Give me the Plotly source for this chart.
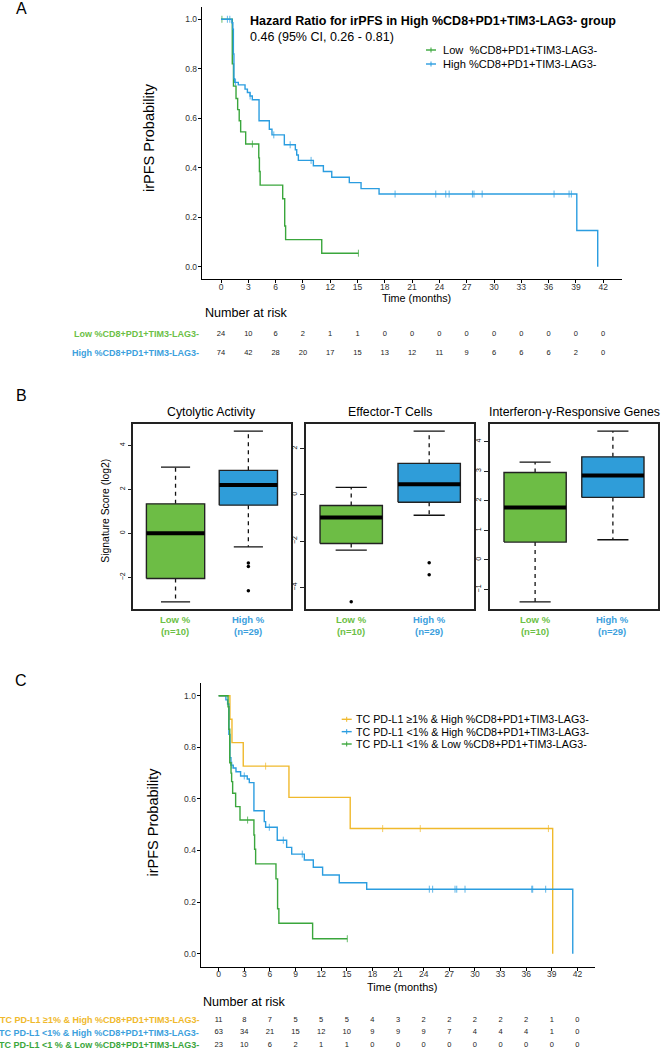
import plotly.graph_objects as go
import numpy as np

W, H = 668, 1050
FONT = "Liberation Sans, Arial, Helvetica, sans-serif"

GREEN = "#3aa63c"
BLUE = "#2b9de0"
GOLD = "#f0b92c"
BOX_GREEN = "#6dbd45"
BOX_BLUE = "#2f9dd9"
LBL_GREEN = "#6cbf46"
LBL_BLUE = "#3c9fdd"

# ---------------- data: panel A ----------------
time_ticks = list(range(0, 43, 3))
prob_ticks = [0.0, 0.2, 0.4, 0.6, 0.8, 1.0]

A_low_t = [0, 1.24, 1.37, 1.65, 1.83, 2.0, 2.16, 2.71, 4.15, 4.22, 4.3, 6.78, 7.0, 7.1, 11.07, 15.1]
A_low_s = [1.0, 0.82, 0.73, 0.68, 0.635, 0.59, 0.545, 0.496, 0.44, 0.385, 0.33, 0.275, 0.165, 0.11, 0.055, 0.055]
A_low_cens = [0.1, 3.45, 15.1]

A_high_t = [0, 1.2, 1.3, 1.36, 1.42, 1.5, 1.9, 2.64, 2.9, 3.19, 3.44, 4.18, 5.31, 5.6, 6.96, 8.17, 8.32, 8.5,
            10.15, 11.25, 12.17, 14.1, 15.39, 17.37, 39.1, 41.4]
A_high_s = [1.0, 0.986, 0.96, 0.86, 0.76, 0.745, 0.735, 0.718, 0.704, 0.69, 0.675, 0.59, 0.556, 0.533, 0.493,
            0.473, 0.452, 0.43, 0.408, 0.385, 0.362, 0.34, 0.316, 0.294, 0.147, 0.0]
A_high_cens = [0.7, 0.97, 1.6, 3.2, 5.8, 7.6, 9.9, 19.13, 23.6, 24.7, 25.07, 27.63, 27.8, 28.7, 36.6, 38.25, 38.5]

A_risk_low = [24, 10, 6, 2, 1, 1, 0, 0, 0, 0, 0, 0, 0, 0, 0]
A_risk_high = [74, 42, 28, 20, 17, 15, 13, 12, 11, 9, 6, 6, 6, 2, 0]
A_risk_labels = ["Low %CD8+PD1+TIM3-LAG3-", "High %CD8+PD1+TIM3-LAG3-"]
A_legend = ["Low\u00a0\u00a0%CD8+PD1+TIM3-LAG3-", "High %CD8+PD1+TIM3-LAG3-"]

# ---------------- data: panel B ----------------
B_titles = ["Cytolytic Activity", "Effector-T Cells", "Interferon-\u03b3-Responsive Genes"]
B_groups = ["Low %<br>(n=10)", "High %<br>(n=29)"]
# [lower whisker, Q1, median, Q3, upper whisker]
B_low_stats = [[-3.11, -2.05, 0.0, 1.34, 3.01],
               [-2.39, -2.1, -0.98, -0.46, 0.32],
               [-1.42, 0.6, 1.77, 2.95, 3.3]]
B_high_stats = [[-0.61, 1.28, 2.2, 2.86, 4.64],
                [-0.88, -0.32, 0.46, 1.36, 2.75],
                [0.68, 2.11, 2.85, 3.48, 4.35]]
B_low_out = [[], [-4.62], []]
B_high_out = [[-1.34, -1.5, -2.61], [-2.93, -3.45], []]
B_yticks = [[-2, 0, 2, 4], [-4, -2, 0, 2], [-1, 0, 1, 2, 3, 4]]

# ---------------- data: panel C ----------------
C_gold_t = [0, 1.32, 1.56, 2.88, 8.23, 15.4, 39.1]
C_gold_s = [1.0, 0.909, 0.818, 0.727, 0.606, 0.485, 0.0]
C_gold_cens = [5.5, 19.2, 23.6, 38.6]

C_blue_t = [0, 0.85, 1.05, 1.2, 1.32, 1.44, 1.71, 2.03, 2.57, 3.35, 3.59, 4.13, 5.34, 5.5, 6.86, 7.96, 8.55,
            10.03, 11.08, 12.17, 14.12, 17.33, 41.45]
C_blue_s = [1.0, 0.984, 0.968, 0.85, 0.76, 0.731, 0.72, 0.705, 0.689, 0.677, 0.663, 0.554, 0.512, 0.49, 0.44,
            0.412, 0.386, 0.363, 0.335, 0.305, 0.275, 0.25, 0.0]
C_blue_cens = [1.55, 3.0, 5.93, 7.57, 9.79, 24.66, 25.05, 27.67, 27.87, 28.84, 36.65, 36.76, 38.28]

C_green_t = [0, 1.1, 1.2, 1.3, 1.45, 1.52, 1.64, 1.99, 2.5, 4.13, 4.21, 4.33, 6.71, 6.9, 7.05, 11.0, 15.06]
C_green_s = [1.0, 0.957, 0.87, 0.74, 0.70, 0.667, 0.622, 0.57, 0.518, 0.46, 0.405, 0.348, 0.29, 0.174, 0.118,
             0.058, 0.058]
C_green_cens = [3.39, 15.06]

C_risk_gold = [11, 8, 7, 5, 5, 5, 4, 3, 2, 2, 2, 2, 2, 1, 0]
C_risk_blue = [63, 34, 21, 15, 12, 10, 9, 9, 9, 7, 4, 4, 4, 1, 0]
C_risk_green = [23, 10, 6, 2, 1, 1, 0, 0, 0, 0, 0, 0, 0, 0, 0]
C_risk_labels = ["TC PD-L1 \u22651% & High %CD8+PD1+TIM3-LAG3-",
                 "TC PD-L1 <1% & High %CD8+PD1+TIM3-LAG3-",
                 "TC PD-L1 <1 % & Low %CD8+PD1+TIM3-LAG3-"]
C_legend = ["TC PD-L1 \u22651% & High %CD8+PD1+TIM3-LAG3-",
            "TC PD-L1 <1% & High %CD8+PD1+TIM3-LAG3-",
            "TC PD-L1 <1% & Low %CD8+PD1+TIM3-LAG3-"]


# ---------------- helpers ----------------
def px(x):
    return x / W


def py(y):
    return 1 - y / H


def surv_at(ts, ss, c):
    i = int(np.searchsorted(np.array(ts), c, side="right")) - 1
    return ss[max(i, 0)]


fig = go.Figure()


def add_km(t, s, cens, color, xa, ya):
    fig.add_trace(go.Scatter(x=t, y=s, mode="lines", line=dict(color=color, width=1.4, shape="hv"),
                             xaxis=xa, yaxis=ya, hoverinfo="skip", showlegend=False))
    fig.add_trace(go.Scatter(x=cens, y=[surv_at(t, s, c) for c in cens], mode="markers",
                             marker=dict(symbol="line-ns-open", size=5, color=color, opacity=0.75,
                                         line=dict(width=1, color=color)),
                             xaxis=xa, yaxis=ya, hoverinfo="skip", showlegend=False))


def add_risk(rows, xa, ya):
    for i, vals in enumerate(rows):
        fig.add_trace(go.Scatter(x=time_ticks, y=[i] * len(vals), mode="text", text=[str(v) for v in vals],
                                 textfont=dict(size=7.5, color="#222", family=FONT),
                                 xaxis=xa, yaxis=ya, hoverinfo="skip", showlegend=False))


def km_axes(xname, yname, x0, x1, y0, y1):
    xa = dict(domain=[px(x0), px(x1)], range=[-2.1, 44.1], tickvals=time_ticks, ticks="outside", ticklen=3,
              tickcolor="black", tickwidth=1, showline=True, linecolor="black", linewidth=1.2,
              showgrid=False, zeroline=False, tickfont=dict(size=8.5, color="#333", family=FONT),
              ticklabelstandoff=-4, anchor=yname.replace("axis", ""))
    ya = dict(domain=[py(y1), py(y0)], range=[-0.05, 1.05], tickvals=prob_ticks, tickformat=".1f",
              ticks="outside", ticklen=3, tickcolor="black", tickwidth=1, showline=True, linecolor="black",
              linewidth=1.2, showgrid=False, zeroline=False, ticklabelstandoff=-1,
              tickfont=dict(size=8.5, color="#333", family=FONT), anchor=xname.replace("axis", ""))
    return xa, ya


def table_axes(xname, yname, x0, x1, ytop, ybot, row0, spacing):
    nbot = (ybot - row0) / spacing
    ntop = (ytop - row0) / spacing
    xa = dict(domain=[px(x0), px(x1)], range=[-2.1, 44.1], visible=False, anchor=yname.replace("axis", ""))
    ya = dict(domain=[py(ybot), py(ytop)], range=[nbot, ntop], visible=False, anchor=xname.replace("axis", ""))
    return xa, ya


layout = {}

# ---------- Panel A ----------
add_km(A_low_t, A_low_s, A_low_cens, GREEN, "x", "y")
add_km(A_high_t, A_high_s, A_high_cens, BLUE, "x", "y")
layout["xaxis"], layout["yaxis"] = km_axes("xaxis", "yaxis", 201.9, 622.3, 6.9, 279.2)
add_risk([A_risk_low, A_risk_high], "x2", "y2")
layout["xaxis2"], layout["yaxis2"] = table_axes("xaxis2", "yaxis2", 201.9, 622.3, 324, 364, 334, 18.7)

# ---------- Panel B ----------
bx = [(133.3, 290.6), (306.0, 474.4), (490.0, 658.0)]
btop, bbot = 424.3, 608.7
for k in range(3):
    xa, ya = "x%d" % (k + 3), "y%d" % (k + 3)
    allv = B_low_stats[k] + B_high_stats[k] + B_low_out[k] + B_high_out[k]
    lo, hi = min(allv), max(allv)
    pad = 0.04 * (hi - lo)
    for cx, st, fill, outs in [(1, B_low_stats[k], BOX_GREEN, B_low_out[k]),
                               (2, B_high_stats[k], BOX_BLUE, B_high_out[k])]:
        wl, q1, med, q3, wh = st
        fig.add_trace(go.Scatter(x=[cx, cx, None, cx, cx], y=[q3, wh, None, q1, wl], mode="lines",
                                 line=dict(color="#111", width=1.3, dash="4px,4px"),
                                 xaxis=xa, yaxis=ya, hoverinfo="skip", showlegend=False))
        fig.add_trace(go.Scatter(x=[cx - 0.2, cx + 0.2, None, cx - 0.2, cx + 0.2], y=[wh, wh, None, wl, wl],
                                 mode="lines", line=dict(color="#111", width=1.3),
                                 xaxis=xa, yaxis=ya, hoverinfo="skip", showlegend=False))
        fig.add_trace(go.Scatter(x=[cx - 0.4, cx + 0.4, cx + 0.4, cx - 0.4, cx - 0.4], y=[q1, q1, q3, q3, q1],
                                 mode="lines", fill="toself", fillcolor=fill, line=dict(color="#222", width=1.4),
                                 xaxis=xa, yaxis=ya, hoverinfo="skip", showlegend=False))
        fig.add_trace(go.Scatter(x=[cx - 0.4, cx + 0.4], y=[med, med], mode="lines",
                                 line=dict(color="#000", width=4),
                                 xaxis=xa, yaxis=ya, hoverinfo="skip", showlegend=False))
        if outs:
            fig.add_trace(go.Scatter(x=[cx] * len(outs), y=outs, mode="markers",
                                     marker=dict(size=3.5, color="#000"),
                                     xaxis=xa, yaxis=ya, hoverinfo="skip", showlegend=False))
    layout["xaxis%d" % (k + 3)] = dict(domain=[px(bx[k][0]), px(bx[k][1])], range=[0.42, 2.58],
                                       showticklabels=False, ticks="", showline=True, mirror=True,
                                       linecolor="#222", linewidth=1.6, showgrid=False, zeroline=False,
                                       anchor="y%d" % (k + 3))
    layout["yaxis%d" % (k + 3)] = dict(domain=[py(bbot), py(btop)], range=[lo - pad, hi + pad],
                                       tickvals=B_yticks[k], ticks="outside", ticklen=4, tickcolor="#222",
                                       tickangle=-90, showline=True, mirror=True, linecolor="#222",
                                       linewidth=1.6, showgrid=False, zeroline=False,
                                       tickfont=dict(size=7, color="#111", family=FONT),
                                       anchor="x%d" % (k + 3))

# ---------- Panel C ----------
add_km(C_gold_t, C_gold_s, C_gold_cens, GOLD, "x6", "y6")
add_km(C_blue_t, C_blue_s, C_blue_cens, BLUE, "x6", "y6")
add_km(C_green_t, C_green_s, C_green_cens, GREEN, "x6", "y6")
layout["xaxis6"], layout["yaxis6"] = km_axes("xaxis6", "yaxis6", 200.7, 595.4, 682.8, 966.6)
add_risk([C_risk_gold, C_risk_blue, C_risk_green], "x7", "y7")
layout["xaxis7"], layout["yaxis7"] = table_axes("xaxis7", "yaxis7", 200.7, 595.4, 1013.7, 1050, 1020, 12.5)

# ---------------- annotations ----------------
ann = []


def text(x, y, s, size, color="#000", xanchor="left", bold=False, angle=0, xref="paper"):
    ann.append(dict(x=x if xref != "paper" else px(x), y=py(y), xref=xref, yref="paper",
                    text=("<b>%s</b>" % s) if bold else s, showarrow=False,
                    font=dict(size=size, color=color, family=FONT), xanchor=xanchor, yanchor="middle",
                    textangle=angle))


# panel letters
text(21, 9, "A", 16, xanchor="center")
text(21, 395, "B", 16, xanchor="center")
text(21, 680, "C", 16, xanchor="center")

# Panel A texts
text(248, 20.7, "Hazard Ratio for irPFS in High %CD8+PD1+TIM3-LAG3- group", 12.5, bold=True)
text(248, 36.7, "0.46 (95% CI, 0.26 - 0.81)", 12.5)
text(149, 138, "irPFS Probability", 14.5, xanchor="center", angle=-90)
text(416.3, 298.3, "Time (months)", 10.8, xanchor="center")
text(203, 313, "Number at risk", 12.6)
for i, (lab, col) in enumerate(zip(A_risk_labels, [LBL_GREEN, LBL_BLUE])):
    text(201, 334 + 18.7 * i, lab, 9, color=col, xanchor="right", bold=True)
shapes = []
for i, (lab, col) in enumerate(zip(A_legend, [GREEN, BLUE])):
    yy = 50 + 14 * i
    shapes.append(dict(type="line", xref="paper", yref="paper", x0=px(426), x1=px(436), y0=py(yy), y1=py(yy),
                       line=dict(color=col, width=1.4)))
    shapes.append(dict(type="line", xref="paper", yref="paper", x0=px(431), x1=px(431), y0=py(yy - 2.5),
                       y1=py(yy + 2.5), line=dict(color=col, width=1)))
    text(440.7, yy, lab, 11.1)

# Panel B texts
for k in range(3):
    text((bx[k][0] + bx[k][1]) / 2, 412.5, B_titles[k], 12.3, xanchor="center")
    for cx, lab, col in [(1, B_groups[0], LBL_GREEN), (2, B_groups[1], LBL_BLUE)]:
        ann.append(dict(x=cx, y=py(625), xref="x%d" % (k + 3), yref="paper", text="<b>%s</b>" % lab,
                        showarrow=False, font=dict(size=9.5, color=col, family=FONT),
                        xanchor="center", yanchor="middle"))
text(104.7, 511, "Signature Score (log2)", 10.4, xanchor="center", angle=-90)

# Panel C texts
text(152, 822.5, "irPFS Probability", 14.5, xanchor="center", angle=-90)
text(402.5, 986.7, "Time (months)", 11, xanchor="center")
text(200.7, 1002.3, "Number at risk", 12.6)
for i, (lab, col) in enumerate(zip(C_risk_labels, [GOLD, LBL_BLUE, GREEN])):
    text(200.5, 1020 + 12.5 * i, lab, 9, color=col, xanchor="right", bold=True)
for i, (lab, col) in enumerate(zip(C_legend, [GOLD, BLUE, GREEN])):
    yy = 719.3 + 12.35 * i
    shapes.append(dict(type="line", xref="paper", yref="paper", x0=px(341.7), x1=px(351.7), y0=py(yy),
                       y1=py(yy), line=dict(color=col, width=1.4)))
    shapes.append(dict(type="line", xref="paper", yref="paper", x0=px(346.7), x1=px(346.7), y0=py(yy - 2.5),
                       y1=py(yy + 2.5), line=dict(color=col, width=1)))
    text(354, yy, lab, 10.7)

fig.update_layout(width=W, height=H, margin=dict(l=0, r=0, t=0, b=0), paper_bgcolor="white",
                  plot_bgcolor="rgba(0,0,0,0)", showlegend=False, annotations=ann, shapes=shapes,
                  font=dict(family=FONT), **layout)

fig.write_html("out.html", config={"displayModeBar": False},
               post_script="document.body.style.margin='0';document.body.style.padding='0';")
